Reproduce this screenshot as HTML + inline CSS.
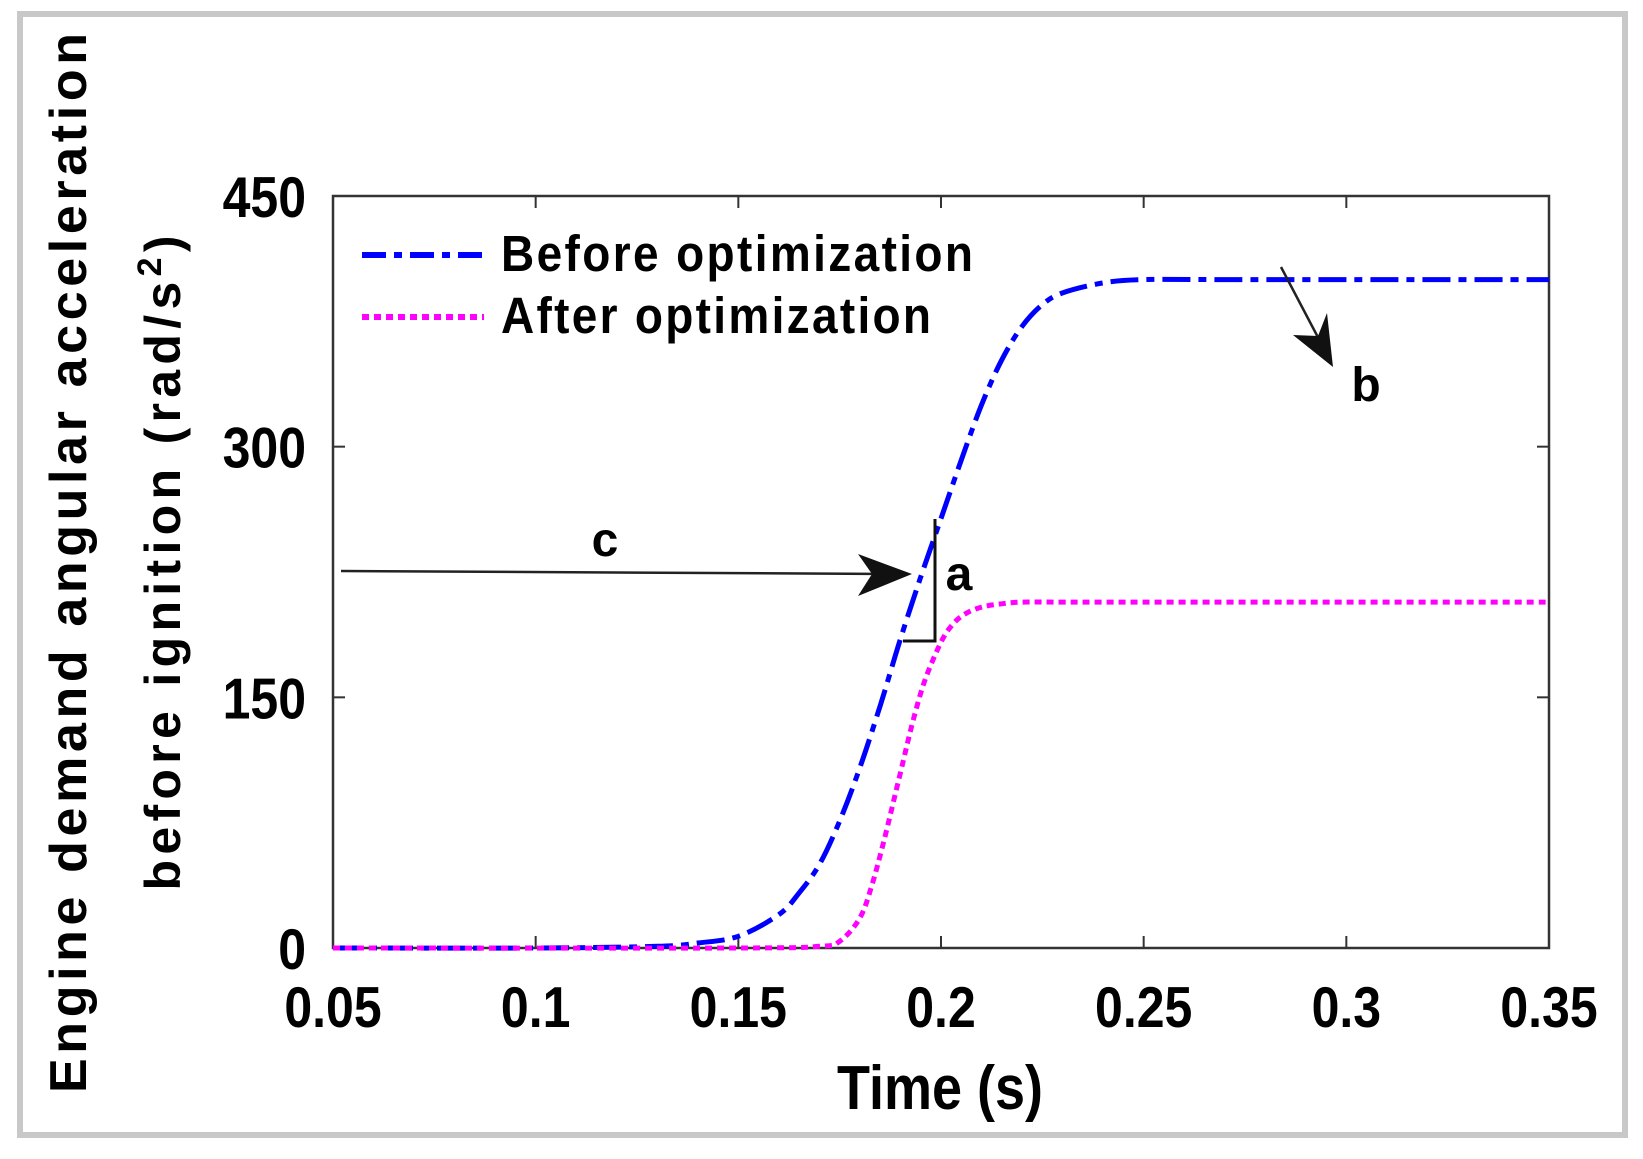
<!DOCTYPE html>
<html><head><meta charset="utf-8"><style>
html,body{margin:0;padding:0;background:#fff;}
svg{display:block;font-family:"Liberation Sans",sans-serif;}
</style></head><body>
<svg id="chart" width="1643" height="1159" viewBox="0 0 1643 1159">
<rect x="20" y="14" width="1605" height="1121" fill="#fff" stroke="#c8c8c8" stroke-width="6"/>
<g id="plot"></g>
</svg>
<script>
const xTicks=[0.05,0.1,0.15,0.2,0.25,0.3,0.35];
const xTickLabels=["0.05","0.1","0.15","0.2","0.25","0.3","0.35"];
const yTicks=[0,150,300,450];
const yTickLabels=["0","150","300","450"];
const beforeT=[0.05,0.1,0.13,0.14,0.15,0.16,0.165,0.17,0.175,0.18,0.185,0.19,0.195,0.2,0.205,0.21,0.215,0.22,0.225,0.23,0.24,0.25,0.27,0.3,0.35];
const beforeV=[0,0,1,3,7,20,33,50,76,108,145,185,222,257,292,325,352,372,385,392,398,400,400,400,400];
const afterT=[0.05,0.15,0.17,0.175,0.18,0.183,0.186,0.19,0.193,0.196,0.2,0.203,0.206,0.21,0.215,0.22,0.23,0.25,0.3,0.35];
const afterV=[0,0,1,4,18,38,65,105,135,160,183,194,200,204,206,207,207,207,207,207];
const L=333,R=1549,T=196,B=948;
const xs=v=>L+(v-0.05)/0.3*(R-L);
const ys=v=>B-v/450*(B-T);
const NS="http://www.w3.org/2000/svg";
const g=document.getElementById('plot');
function mk(tag,at){const e=document.createElementNS(NS,tag);for(const k in at)e.setAttribute(k,at[k]);g.appendChild(e);return e;}
function path(tArr,vArr){
 const p=tArr.map((t,i)=>[xs(t),ys(vArr[i])]);
 let d='M'+p[0][0].toFixed(1)+' '+p[0][1].toFixed(1);
 for(let i=0;i<p.length-1;i++){
  const p0=p[Math.max(i-1,0)],p1=p[i],p2=p[i+1],p3=p[Math.min(i+2,p.length-1)];
  const c1=[p1[0]+(p2[0]-p0[0])/6,p1[1]+(p2[1]-p0[1])/6];
  const c2=[p2[0]-(p3[0]-p1[0])/6,p2[1]-(p3[1]-p1[1])/6];
  d+=' C'+c1.map(v=>v.toFixed(1)).join(' ')+' '+c2.map(v=>v.toFixed(1)).join(' ')+' '+p2[0].toFixed(1)+' '+p2[1].toFixed(1);
 }
 return d;
}
let e=mk('rect',{x:L,y:T,width:R-L,height:B-T,fill:'none',stroke:'#333','stroke-width':2.5});


xTicks.forEach((t,i)=>{
 let a=mk('line',{x1:xs(t),x2:xs(t),y1:B,y2:B-12,stroke:'#333','stroke-width':2});
 
 
 let b=mk('line',{x1:xs(t),x2:xs(t),y1:T,y2:T+12,stroke:'#333','stroke-width':2});
 
 
 let tx=mk('text',{x:0,y:0,'text-anchor':'middle','font-size':50,'font-weight':'bold',transform:'translate('+xs(t)+',1027) scale(1,1.15)'});
 tx.textContent=xTickLabels[i];
 
 
});
yTicks.forEach((v,i)=>{
 let a=mk('line',{x1:L,x2:L+12,y1:ys(v),y2:ys(v),stroke:'#333','stroke-width':2});
 
 
 let b=mk('line',{x1:R,x2:R-12,y1:ys(v),y2:ys(v),stroke:'#333','stroke-width':2});
 
 
 let tx=mk('text',{x:0,y:0,'text-anchor':'end','font-size':50,'font-weight':'bold',transform:'translate(306,'+(ys(v)+21)+') scale(1,1.15)'});
 tx.textContent=yTickLabels[i];
 
 
});
let p1=mk('path',{d:path(beforeT,beforeV),fill:'none',stroke:'#0000ff','stroke-width':5,'stroke-dasharray':'28 8 8 8'});


let p2=mk('path',{d:path(afterT,afterV),fill:'none',stroke:'#ff00ff','stroke-width':5,'stroke-dasharray':'7 5'});


let l1=mk('line',{x1:362,x2:484,y1:255,y2:255,stroke:'#0000ff','stroke-width':6,'stroke-dasharray':'24 8 8 8'});


let t1=mk('text',{x:0,y:0,'font-size':46,'font-weight':'bold',textLength:472,transform:'translate(501,271) scale(1,1.1)'});
t1.textContent='Before optimization';


let l2=mk('line',{x1:362,x2:484,y1:317,y2:317,stroke:'#ff00ff','stroke-width':6,'stroke-dasharray':'7 5'});


let t2=mk('text',{x:0,y:0,'font-size':46,'font-weight':'bold',textLength:430,transform:'translate(501,333) scale(1,1.1)'});
t2.textContent='After optimization';


let ca=mk('line',{x1:341,y1:571,x2:895,y2:574,stroke:'#222','stroke-width':2.5});


let ch=mk('polygon',{points:'912,574 858,554 872,574 858,596',fill:'#111'});


let ct=mk('text',{x:605,y:556,'text-anchor':'middle','font-size':48,'font-weight':'bold'});
ct.textContent='c';


let tri=mk('polyline',{points:'935,519 935,641 903,641',fill:'none',stroke:'#111','stroke-width':3});


let at=mk('text',{x:959,y:590,'text-anchor':'middle','font-size':48,'font-weight':'bold'});
at.textContent='a';


let ba=mk('line',{x1:1281,y1:267,x2:1322,y2:345,stroke:'#222','stroke-width':2.5});


let bh=mk('polygon',{points:'1333,367 1293,335 1318,336 1327,313',fill:'#111'});


let bt=mk('text',{x:1366,y:401,'text-anchor':'middle','font-size':48,'font-weight':'bold'});
bt.textContent='b';


let xt=mk('text',{x:0,y:0,'text-anchor':'middle','font-size':54,'font-weight':'bold',transform:'translate(940,1109) scale(1,1.15)'});
xt.textContent='Time (s)';


let y1=mk('text',{x:0,y:0,'text-anchor':'middle','font-size':52,'font-weight':'bold',transform:'translate(86,563) rotate(-90)',textLength:1060});
y1.textContent='Engine demand angular acceleration';


let y2=mk('text',{x:0,y:0,'text-anchor':'middle','font-size':50,'font-weight':'bold',transform:'translate(180,563) rotate(-90)',textLength:655});
y2.innerHTML='before ignition (rad/s<tspan baseline-shift="super" font-size="34">2</tspan>)';


</script>
</body></html>
